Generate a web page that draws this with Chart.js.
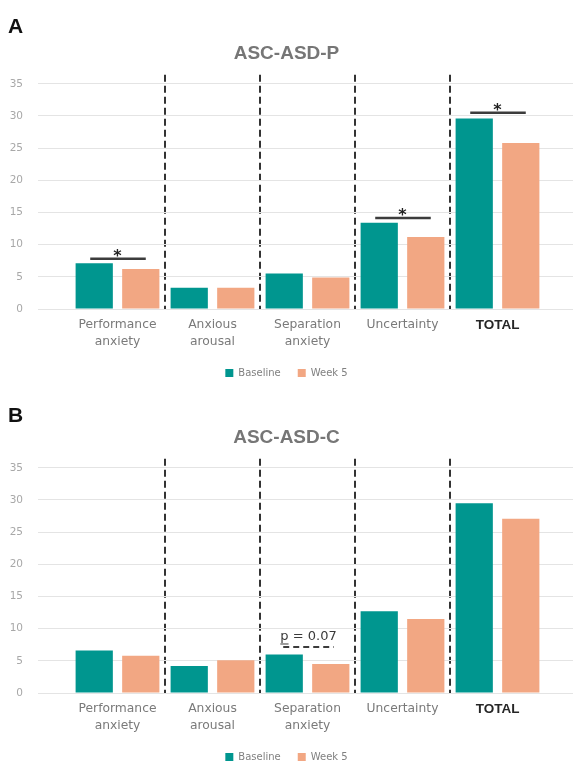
<!DOCTYPE html>
<html lang="en">
<head>
  <meta charset="UTF-8">
  <title>ASC-ASD-P / ASC-ASD-C</title>
  <script src="https://cdn.jsdelivr.net/npm/chart.js"></script>
  <style>
    html, body { margin: 0; padding: 0; background: #fff; }
    body { width: 573px; height: 763px; position: relative; overflow: hidden; }
    .panel { position: absolute; left: 0; width: 573px; height: 384px; }
    .letter { position: absolute; left: 8px; font: bold 21px "Liberation Sans", Arial, sans-serif; line-height: 21px; color: #111; }
  </style>
</head>
<body>
  <div class="panel" style="top:0"><canvas id="chartP"></canvas></div>
  <div class="panel" style="top:384px"><canvas id="chartC"></canvas></div>
  <div class="letter" style="top:15px">A</div>
  <div class="letter" style="top:404px">B</div>

<script>
// categories and series
const categories = [['Performance', 'anxiety'], ['Anxious', 'arousal'], ['Separation', 'anxiety'], 'Uncertainty', 'TOTAL'];
const seriesNames = ['Baseline', 'Week 5'];

// ASC-ASD-P (parent report)
const baselineP = [7.1, 3.3, 5.5, 13.4, 29.6];
const week5P = [6.2, 3.3, 4.9, 11.2, 25.8];

// ASC-ASD-C (child report)
const baselineC = [6.6, 4.2, 6.0, 12.7, 29.5];
const week5C = [5.8, 5.1, 4.5, 11.5, 27.1];

// significance marks: category index, bracket height (score units), label
const sigIndexP = [0, 3, 4];
const sigLevelP = [7.8, 14.15, 30.5];
const sigIndexC = [2];
const sigLevelC = [7.15];
const sigTextC = ['p = 0.07'];

const yTicks = [0, 5, 10, 15, 20, 25, 30, 35];
const yTop = 36.4;

const TEAL = '#00968f';
const SALMON = '#f2a783';
const GRID = '#e4e4e4';

Chart.defaults.font.family = '"DejaVu Sans", sans-serif';
Chart.defaults.animation = false;

// brackets with * or p-value above bar pairs
const sigPlugin = {
  id: 'sig',
  afterDatasetsDraw(chart, args, opts) {
    const ctx = chart.ctx;
    const y = chart.scales.y;
    const m0 = chart.getDatasetMeta(0), m1 = chart.getDatasetMeta(1);
    opts.index.forEach((ci, k) => {
      const x0 = m0.data[ci].x, x1 = m1.data[ci].x;
      const ly = y.getPixelForValue(opts.level[k]);
      ctx.save();
      ctx.strokeStyle = '#3c3c3c';
      if (opts.text) {
        ctx.lineWidth = 2;
        ctx.setLineDash([6, 4]);
        ctx.beginPath(); ctx.moveTo(x0 - 1, ly); ctx.lineTo(x1 + 3, ly); ctx.stroke();
        ctx.setLineDash([]);
        const t = opts.text[k];
        ctx.font = '13px "DejaVu Sans", sans-serif';
        ctx.fillStyle = '#3a3a3a';
        ctx.textBaseline = 'alphabetic';
        ctx.textAlign = 'left';
        const w = ctx.measureText(t).width;
        const tx = (x0 + x1) / 2 + 1 - w / 2, ty = ly - 7;
        ctx.fillText(t, tx, ty);
        const pw = ctx.measureText('p').width;
        ctx.lineWidth = 1;
        ctx.beginPath(); ctx.moveTo(tx, ty + 4); ctx.lineTo(tx + pw, ty + 4); ctx.stroke();
      } else {
        ctx.lineWidth = 2.5;
        ctx.beginPath(); ctx.moveTo(x0 - 4, ly); ctx.lineTo(x1 + 5, ly); ctx.stroke();
        ctx.font = 'bold 16px "DejaVu Sans", sans-serif';
        ctx.fillStyle = '#222';
        ctx.textAlign = 'center';
        ctx.textBaseline = 'alphabetic';
        ctx.fillText('*', (x0 + x1) / 2, ly + 2);
      }
      ctx.restore();
    });
  }
};

function tickFont(c) {
  if (c.index === 4) return { family: '"Liberation Sans", Arial, sans-serif', size: 13.5, weight: 'bold', lineHeight: 1.4 };
  return { family: '"DejaVu Sans", sans-serif', size: 12.3, lineHeight: 1.4 };
}

function makeChart(id, title, base, wk, sig) {
  return new Chart(document.getElementById(id), {
    type: 'bar',
    data: {
      labels: categories,
      datasets: [
        { label: seriesNames[0], data: base, backgroundColor: TEAL, categoryPercentage: 0.98, barPercentage: 0.8 },
        { label: seriesNames[1], data: wk, backgroundColor: SALMON, categoryPercentage: 0.98, barPercentage: 0.8 }
      ]
    },
    options: {
      responsive: true,
      maintainAspectRatio: false,
      layout: { padding: 0 },
      plugins: {
        title: {
          display: true,
          text: title,
          color: '#767676',
          font: { family: '"Liberation Sans", Arial, sans-serif', size: 19, weight: 'bold', lineHeight: 1.2 },
          padding: { top: 42, bottom: 10 }
        },
        legend: {
          position: 'bottom',
          maxHeight: 33,
          labels: { boxWidth: 8, boxHeight: 8, padding: 17, color: '#808080', font: { size: 10 } }
        },
        tooltip: { enabled: false },
        sig: sig
      },
      scales: {
        x: {
          offset: true,
          grid: {
            offset: true,
            drawTicks: false,
            lineWidth: 2,
            color: c => (c.index >= 1 && c.index <= 4) ? '#333333' : 'rgba(0,0,0,0)'
          },
          border: { display: false, dash: [7, 4] },
          ticks: {
            padding: 7,
            maxRotation: 0,
            autoSkip: false,
            font: tickFont,
            color: c => c.index === 4 ? '#262626' : '#7a7a7a'
          },
          afterFit: a => { a.height = 42; }
        },
        y: {
          min: 0,
          max: yTop,
          afterBuildTicks: a => { a.ticks = yTicks.map(v => ({ value: v })); },
          grid: { color: GRID, tickColor: GRID, tickLength: 32, drawTicks: true },
          border: { display: false },
          ticks: { padding: 15, color: '#a8a8a8', font: { size: 10.5 } },
          afterFit: a => { a.width = 70; }
        },
        y2: {
          position: 'right',
          min: 0,
          max: yTop,
          afterBuildTicks: a => { a.ticks = yTicks.map(v => ({ value: v })); },
          grid: { drawOnChartArea: false, tickColor: GRID, tickLength: 28, drawTicks: true },
          border: { display: false },
          ticks: { display: false },
          afterFit: a => { a.width = 28; }
        }
      }
    },
    plugins: [sigPlugin]
  });
}

makeChart('chartP', 'ASC-ASD-P', baselineP, week5P, { index: sigIndexP, level: sigLevelP });
makeChart('chartC', 'ASC-ASD-C', baselineC, week5C, { index: sigIndexC, level: sigLevelC, text: sigTextC });
</script>
</body>
</html>
